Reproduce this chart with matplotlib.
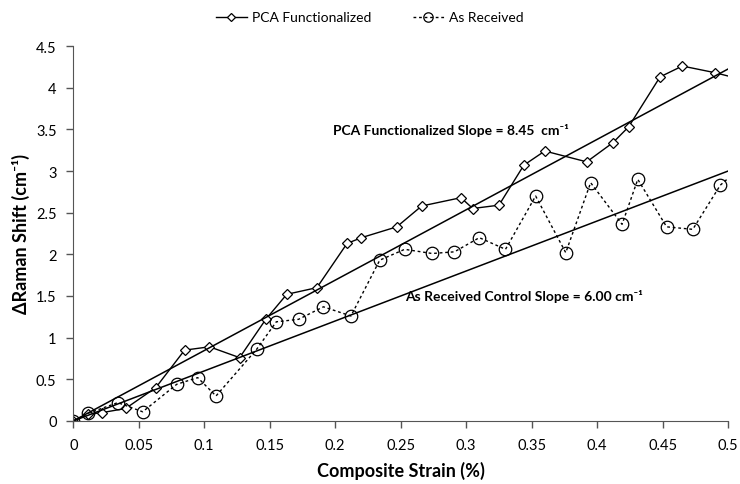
import matplotlib
matplotlib.use("Agg")
import matplotlib.pyplot as plt
from matplotlib.ticker import FuncFormatter, MultipleLocator

plt.rcParams['font.family'] = ['Lato', 'DejaVu Sans']

# Data
pca_x = [0, 0.011, 0.022, 0.04, 0.063, 0.085, 0.104, 0.127, 0.147, 0.163, 0.186, 0.209, 0.22,
         0.247, 0.266, 0.296, 0.305, 0.325, 0.344, 0.360, 0.392, 0.412, 0.424, 0.448, 0.465, 0.49, 0.51]
pca_y = [0, 0.08, 0.1, 0.15, 0.4, 0.85, 0.89, 0.76, 1.22, 1.52, 1.6, 2.13, 2.2,
         2.33, 2.58, 2.68, 2.55, 2.59, 3.07, 3.24, 3.11, 3.34, 3.53, 4.13, 4.26, 4.18, 4.10]
ar_x = [0, 0.011, 0.034, 0.053, 0.079, 0.095, 0.109, 0.14, 0.155, 0.172, 0.191, 0.212, 0.234,
        0.253, 0.274, 0.291, 0.31, 0.33, 0.353, 0.376, 0.395, 0.419, 0.431, 0.453, 0.473, 0.494, 0.51]
ar_y = [0, 0.09, 0.22, 0.11, 0.44, 0.52, 0.3, 0.86, 1.19, 1.22, 1.37, 1.26, 1.93,
        2.06, 2.01, 2.03, 2.2, 2.06, 2.7, 2.02, 2.86, 2.36, 2.9, 2.33, 2.3, 2.83, 3.05]
pca_slope = 8.45
ar_slope = 6.00
fit_x = [0, 0.5]

fig = plt.figure(figsize=(7.4, 4.85), dpi=100)
ax = fig.add_axes([0.099, 0.13, 0.885, 0.773])

ax.plot(pca_x, pca_y, color='black', lw=1.0, marker='D', ms=5.5, mfc='white', mec='black',
        mew=0.9, label='PCA Functionalized', clip_on=True)
ax.plot(ar_x, ar_y, color='black', lw=1.0, ls=(0, (2, 2)), marker='o', ms=9, mfc='none',
        mec='black', mew=0.9, label='As Received', clip_on=True)
ax.plot(fit_x, [pca_slope * v for v in fit_x], color='black', lw=1.1)
ax.plot(fit_x, [ar_slope * v for v in fit_x], color='black', lw=1.1)

ax.set_xlim(0, 0.5)
ax.set_ylim(0, 4.5)
ax.xaxis.set_major_locator(MultipleLocator(0.05))
ax.yaxis.set_major_locator(MultipleLocator(0.5))
fmt = FuncFormatter(lambda v, p: '%g' % round(v, 3))
ax.xaxis.set_major_formatter(fmt)
ax.yaxis.set_major_formatter(fmt)
for s in ['top', 'right']:
    ax.spines[s].set_visible(False)
for s in ['left', 'bottom']:
    ax.spines[s].set_color('#555555')
ax.tick_params(direction='out', length=5, width=1, colors='#555555', labelcolor='black',
               labelsize=10.5, pad=7)

ax.set_xlabel('Composite Strain (%)', fontsize=13, fontweight='bold', labelpad=7)
ax.set_ylabel('ΔRaman Shift (cm⁻¹)', fontsize=13, fontweight='bold', labelpad=4)

ax.text(0.198, 3.5, 'PCA Functionalized Slope = 8.45  cm⁻¹', fontsize=10, fontweight='bold',
        va='center', ha='left')
ax.text(0.253, 1.51, 'As Received Control Slope = 6.00 cm⁻¹', fontsize=10, fontweight='bold',
        va='center', ha='left')

fig.legend(loc='upper center', bbox_to_anchor=(0.5, 1.0), ncol=2, frameon=False,
           fontsize=10, handlelength=2.2, columnspacing=3, handletextpad=0.4, markerscale=0.75)

fig.savefig('out.png', dpi=100)
